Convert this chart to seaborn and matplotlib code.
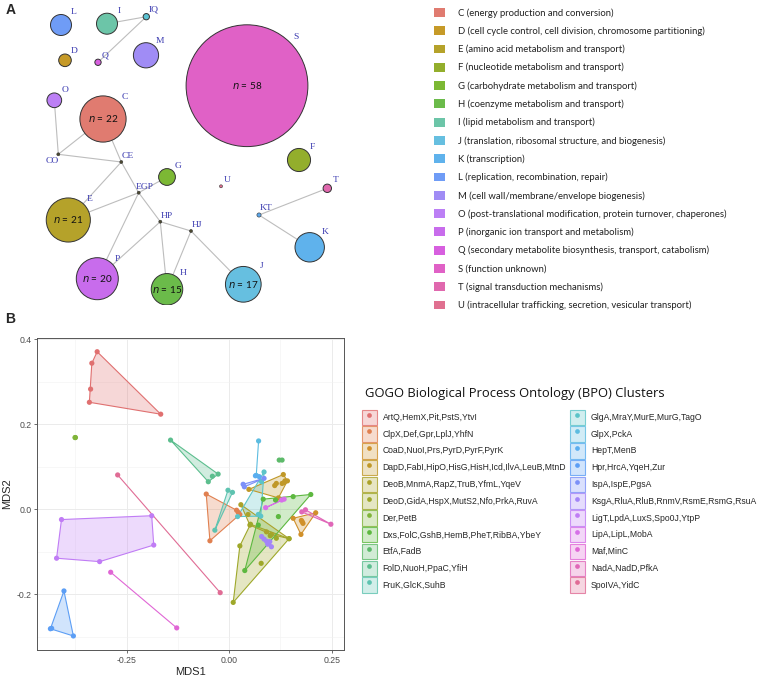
import numpy as np
import pandas as pd
import matplotlib
matplotlib.use("Agg")
import matplotlib.pyplot as plt
import seaborn as sns
from matplotlib.patches import Circle, Patch
from matplotlib.lines import Line2D
from matplotlib.colors import to_rgba

# ================================
# PANEL A DATA: COG NETWORK
# ================================
node_names = ["L", "I", "IQ", "D", "Q", "M", "S", "O", "C", "CO", "CE", "G",
              "EGP", "U", "F", "T", "KT", "K", "E", "HP", "HJ", "P", "H", "J"]
node_n = [10, 10, 3, 6, 3, 12, 58, 7, 22, 1, 1, 8,
          1, 1, 11, 4, 2, 14, 21, 1, 1, 20, 15, 17]
# layout positions of the network (pixel-like layout units)
node_x = [61, 107, 146.3, 65, 98, 146, 247, 54.3, 103, 58.3, 121.3, 167,
          138.7, 221, 299, 327.3, 259, 309.7, 68.3, 160.3, 191, 97.3, 167, 243.3]
node_y = [25, 23.7, 16.7, 60.3, 62.3, 55.3, 85.7, 100.3, 119, 154.3, 162, 177,
          192.7, 186.3, 160, 188.3, 215, 247.3, 220, 221.7, 231, 278.7, 289.3, 284.3]
edges = [("I", "IQ"), ("IQ", "Q"), ("O", "CO"), ("CO", "C"), ("CO", "CE"),
         ("C", "CE"), ("CE", "E"), ("CE", "EGP"), ("EGP", "G"), ("EGP", "E"),
         ("EGP", "P"), ("EGP", "HP"), ("HP", "P"), ("HP", "H"), ("HP", "HJ"),
         ("HJ", "H"), ("HJ", "J"), ("KT", "T"), ("KT", "K")]

cog_letters = ["C", "D", "E", "F", "G", "H", "I", "J", "K", "L", "M", "O",
               "P", "Q", "S", "T", "U"]
cog_desc = ["energy production and conversion",
            "cell cycle control, cell division, chromosome partitioning",
            "amino acid metabolism and transport",
            "nucleotide metabolism and transport",
            "carbohydrate metabolism and transport",
            "coenzyme metabolism and transport",
            "lipid metabolism and transport",
            "translation, ribosomal structure, and biogenesis",
            "transcription",
            "replication, recombination, repair",
            "cell wall/membrane/envelope biogenesis",
            "post-translational modification, protein turnover, chaperones",
            "inorganic ion transport and metabolism",
            "secondary metabolite biosynthesis, transport, catabolism",
            "function unknown",
            "signal transduction mechanisms",
            "intracellular trafficking, secretion, vesicular transport"]
cog_colors = ["#E07B70", "#C69A28", "#B5A22A", "#93AE2C", "#7CB834", "#6BBB4A",
              "#6CC5A8", "#66BFE0", "#5FB2EC", "#6F9CF6", "#A08CF5", "#BC7FF5",
              "#C86CEC", "#D75FDF", "#E061C6", "#E068AE", "#E07090"]
extra_colors = {"IQ": "#5CC3D3", "KT": "#5DA7EA", "U": "#8E3B4E"}
hub_color = "#4D4A30"

# ================================
# PANEL B DATA: MDS OF GO CLUSTERS
# ================================
cluster_labels = ["ArtQ,HemX,Pit,PstS,YtvI", "ClpX,Def,Gpr,LplJ,YhfN",
                  "CoaD,NuoI,Prs,PyrD,PyrF,PyrK",
                  "DapD,FabI,HipO,HisG,HisH,Icd,IlvA,LeuB,MtnD",
                  "DeoB,MnmA,RapZ,TruB,YfmL,YqeV",
                  "DeoD,GidA,HspX,MutS2,Nfo,PrkA,RuvA", "Der,PetB",
                  "Dxs,FolC,GshB,HemB,PheT,RibBA,YbeY", "EtfA,FadB",
                  "FolD,NuoH,PpaC,YfiH", "FruK,GlcK,SuhB",
                  "GlgA,MraY,MurE,MurG,TagO", "GlpX,PckA", "HepT,MenB",
                  "Hpr,HrcA,YqeH,Zur", "IspA,IspE,PgsA",
                  "KsgA,RluA,RluB,RnmV,RsmE,RsmG,RsuA",
                  "LigT,LpdA,LuxS,Spo0J,YtpP", "LipA,LipL,MobA", "Maf,MinC",
                  "NadA,NadD,PfkA", "SpoIVA,YidC"]
cluster_colors = ["#E07070", "#E08050", "#D0902A", "#C09828", "#ABA22A",
                  "#9EA82A", "#80B43A", "#5DB840", "#5DBA6A", "#5CBE8E",
                  "#5EC3B0", "#5CC4C8", "#5CBCE0", "#5AAEF0", "#5C9EF5",
                  "#7C90F8", "#A385F8", "#C07CF5", "#D670E8", "#E066D5",
                  "#E067B8", "#E06C95"]
mds1 = [
    [-0.322, -0.335, -0.338, -0.341, -0.167],
    [-0.056, -0.047, 0.018, 0.022, 0.026],
    [0.156, 0.211, 0.175, 0.178, 0.180, 0.176],
    [0.048, 0.132, 0.142, 0.120, 0.111, 0.115, 0.129, 0.136, 0.134],
    [0.0285, 0.046, 0.0505, 0.091, 0.103, 0.146],
    [0.0098, 0.026, 0.052, 0.078, 0.115, 0.146, 0.100],
    [-0.376, -0.375],
    [0.083, 0.113, 0.156, 0.199, 0.120, 0.038, 0.071],
    [0.122, 0.129],
    [-0.143, -0.051, -0.027, -0.041],
    [-0.003, 0.008, -0.035],
    [0.0205, 0.071, 0.077, 0.079, 0.085],
    [0.0717, 0.066],
    [0.064, 0.073],
    [-0.403, -0.436, -0.380, -0.433],
    [0.034, 0.037, 0.085],
    [0.079, 0.085, 0.091, 0.095, 0.103, 0.094, 0.099],
    [-0.409, -0.189, -0.184, -0.316, -0.421],
    [0.089, 0.128, 0.134],
    [-0.289, -0.128],
    [0.177, 0.186, 0.248],
    [-0.272, -0.022],
]
mds2 = [
    [0.371, 0.344, 0.283, 0.252, 0.224],
    [0.036, -0.074, -0.002, -0.007, -0.012],
    [-0.021, -0.008, -0.059, -0.029, -0.033, -0.026],
    [0.047, 0.082, 0.067, 0.027, 0.056, 0.061, 0.061, 0.067, 0.063],
    [0.011, -0.012, -0.037, -0.053, -0.059, -0.069],
    [-0.219, -0.086, -0.035, -0.127, -0.068, -0.069, -0.062],
    [0.169, 0.169],
    [0.024, 0.022, 0.030, 0.035, -0.017, -0.144, -0.037],
    [0.116, 0.116],
    [0.163, 0.065, 0.083, 0.078],
    [0.045, 0.040, -0.049],
    [-0.017, -0.012, -0.016, 0.065, 0.088],
    [0.161, 0.080],
    [0.079, 0.077],
    [-0.192, -0.281, -0.298, -0.280],
    [0.059, 0.053, 0.073],
    [-0.064, -0.070, -0.075, -0.078, -0.088, -0.082, -0.076],
    [-0.024, -0.015, -0.084, -0.123, -0.115],
    [0.004, 0.022, 0.024],
    [-0.148, -0.279],
    [-0.006, -0.001, -0.035],
    [0.081, -0.196],
]


def convex_hull(pts):
    pts = sorted(set(pts))
    if len(pts) <= 2:
        return pts

    def cross(o, a, b):
        return (a[0] - o[0]) * (b[1] - o[1]) - (a[1] - o[1]) * (b[0] - o[0])
    lower, upper = [], []
    for p in pts:
        while len(lower) >= 2 and cross(lower[-2], lower[-1], p) <= 0:
            lower.pop()
        lower.append(p)
    for p in reversed(pts):
        while len(upper) >= 2 and cross(upper[-2], upper[-1], p) <= 0:
            upper.pop()
        upper.append(p)
    return lower[:-1] + upper[:-1]


sns.set_style("ticks")
plt.rcParams["font.family"] = ["Liberation Sans", "DejaVu Sans"]

fig = plt.figure(figsize=(7.58, 6.76), dpi=100)
W, H = 758, 676

# ================================
# PANEL A: NETWORK
# ================================
ax_a = fig.add_axes([0, 1 - 305 / H, 400 / W, 305 / H])
ax_a.set_xlim(0, 400)
ax_a.set_ylim(305, 0)
ax_a.axis("off")

pos = {n: (x, y) for n, x, y in zip(node_names, node_x, node_y)}
for a, b in edges:
    ax_a.plot([pos[a][0], pos[b][0]], [pos[a][1], pos[b][1]],
              color="#BDBDBD", lw=0.8, zorder=1)

col_of = dict(zip(cog_letters, cog_colors))
for name, n, x, y in zip(node_names, node_n, node_x, node_y):
    r = max(1.05 * n, 1.5)
    if name in col_of:
        fc = col_of[name]
    elif name in extra_colors:
        fc = extra_colors[name]
    else:
        fc = hub_color
    ax_a.add_patch(Circle((x, y), r, facecolor=fc, edgecolor="#333333",
                          lw=0.7 if n > 2 else 0.4, zorder=2))
    off = 0.72 * r + 5
    if name == "CO":
        lx, ly = x - 6, y + 6.5
    else:
        lx, ly = x + off, y - off
    ax_a.text(lx, ly, name, ha="center", va="center", fontsize=6.8,
              family="Liberation Serif", color="#3A3AB0", zorder=3)
    if n >= 15:
        ax_a.text(x, y, r"$\it{n}$ = %d" % n, ha="center", va="center",
                  fontsize=7.2, family="Lato", color="#111111", zorder=3)

fig.text(11 / W, 1 - 9.5 / H, "A", fontsize=10, fontweight="bold",
         ha="center", va="center")

leg_a = fig.legend(
    handles=[Patch(facecolor=c, edgecolor="none") for c in cog_colors],
    labels=[f"{l} ({d})" for l, d in zip(cog_letters, cog_desc)],
    loc="upper left", bbox_to_anchor=(434 / W, 1 - 8 / H), frameon=False,
    prop={"family": "Lato", "size": 6.8}, handlelength=1.13,
    handleheight=1.05, handletextpad=1.44, labelspacing=0.92,
    borderpad=0, borderaxespad=0)
for t in leg_a.get_texts():
    t.set_color("#222222")

# ================================
# PANEL B: MDS SCATTER
# ================================
rows = []
for lab, xs, ys in zip(cluster_labels, mds1, mds2):
    for x, y in zip(xs, ys):
        rows.append((lab, x, y))
df = pd.DataFrame(rows, columns=["cluster", "MDS1", "MDS2"])

ax_b = fig.add_axes([37.3 / W, 1 - 650 / H, (344 - 37.3) / W, (650 - 337.7) / H])
ax_b.set_facecolor("white")

for lab, col in zip(cluster_labels, cluster_colors):
    sub = df[df["cluster"] == lab]
    hull = convex_hull(list(zip(sub["MDS1"], sub["MDS2"])))
    hx = [p[0] for p in hull]
    hy = [p[1] for p in hull]
    if len(hull) > 2:
        ax_b.fill(hx, hy, facecolor=col, alpha=0.28, edgecolor="none", zorder=2)
        ax_b.plot(hx + hx[:1], hy + hy[:1], color=col, lw=0.8, zorder=2.5)
    else:
        ax_b.plot(hx, hy, color=col, lw=0.8, zorder=2.5)

sns.scatterplot(data=df, x="MDS1", y="MDS2", hue="cluster",
                hue_order=cluster_labels, palette=cluster_colors, s=14,
                linewidth=0, legend=False, ax=ax_b, zorder=3)

ax_b.set_xlim(-0.468, 0.28)
ax_b.set_ylim(-0.331, 0.404)
ax_b.set_xticks([-0.25, 0.0, 0.25])
ax_b.set_xticklabels(["-0.25", "0.00", "0.25"])
ax_b.set_yticks([-0.2, 0.0, 0.2, 0.4])
ax_b.set_yticklabels(["-0.2", "0.0", "0.2", "0.4"])
ax_b.set_xticks([-0.375, -0.125, 0.125], minor=True)
ax_b.set_yticks([-0.3, -0.1, 0.1, 0.3], minor=True)
ax_b.grid(which="major", color="#EBEBEB", lw=0.7, zorder=0)
ax_b.grid(which="minor", color="#F2F2F2", lw=0.4, zorder=0)
ax_b.set_axisbelow(True)
ax_b.tick_params(which="major", length=2.5, width=0.5, color="#333333",
                 labelsize=6.3, labelcolor="#4D4D4D", pad=1.5)
ax_b.tick_params(which="minor", length=0)
for sp in ax_b.spines.values():
    sp.set_color("#555555")
    sp.set_linewidth(0.7)
ax_b.set_xlabel("MDS1", fontsize=8, labelpad=2)
ax_b.set_ylabel("MDS2", fontsize=8, labelpad=3)

fig.text(10 / W, 1 - 319 / H, "B", fontsize=10, fontweight="bold",
         ha="center", va="center")

# legend B: two columns of keys (polygon + point)
fig.text(365 / W, 1 - 393.5 / H, "GOGO Biological Process Ontology (BPO) Clusters",
         fontsize=9.4, family="Open Sans", ha="left", va="center", color="#111111")

handles_b = [(Patch(facecolor=to_rgba(c, 0.28), edgecolor=to_rgba(c, 0.8), lw=0.8),
              Line2D([], [], marker="o", ls="", color=c, ms=3.4, mew=0))
             for c in cluster_colors]
for k, x0 in enumerate([361.7, 569.8]):
    sl = slice(11 * k, 11 * (k + 1))
    fig.legend(handles=handles_b[sl], labels=cluster_labels[sl],
               loc="upper left", bbox_to_anchor=(x0 / W, 1 - 409.5 / H),
               frameon=False, fontsize=6.2, handlelength=1.74, handleheight=2.39,
               handletextpad=0.7, labelspacing=0.15, borderpad=0,
               borderaxespad=0)

fig.savefig("out.png", dpi=100)
